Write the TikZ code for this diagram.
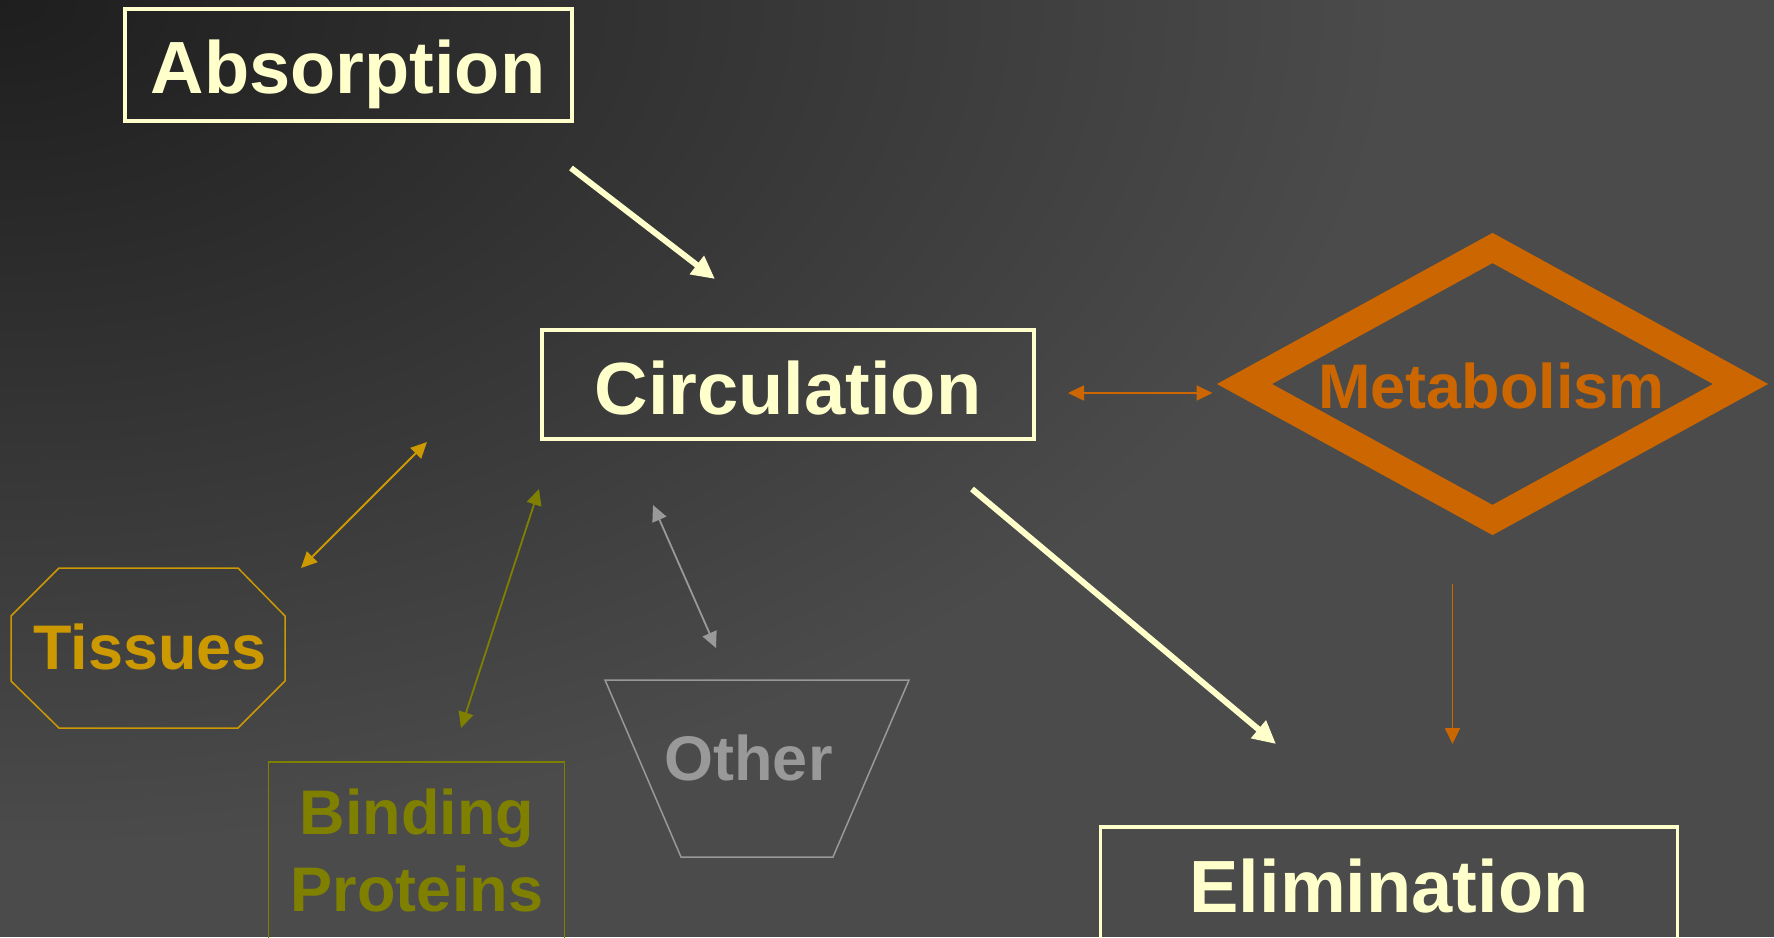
\documentclass[tikz,border=0pt]{standalone}
\usepackage{fontspec}
\setmainfont{Liberation Sans}
\usetikzlibrary{arrows.meta}
\definecolor{cream}{HTML}{FFFFCC}
\definecolor{orng}{HTML}{CC6600}
\definecolor{gold}{HTML}{CC9900}
\definecolor{olv}{HTML}{808000}
\definecolor{gry}{HTML}{999999}
\definecolor{bgdark}{HTML}{1E1E1E}
\definecolor{bglight}{HTML}{4B4B4B}
\tikzset{
  bigtext/.style={font=\fontsize{74}{80}\selectfont\bfseries, text=cream, anchor=base, inner sep=0pt},
  midtext/.style={font=\fontsize{63}{70}\selectfont\bfseries, anchor=base, inner sep=0pt},
  mainbox/.style={draw=cream, line width=3.5pt, rectangle, inner sep=0pt},
  thinbox/.style={rectangle, line width=1.5pt, inner sep=0pt},
  thickarrow/.style={draw=cream, line width=6pt, -{Triangle[length=23pt,width=22pt]}},
  thinarrow/.style={line width=1.8pt, {Triangle[length=16pt,width=15pt]}-{Triangle[length=16pt,width=15pt]}},
  onearrow/.style={line width=1.8pt, -{Triangle[length=16pt,width=15pt]}},
}
\begin{document}
\begin{tikzpicture}[x=1pt,y=-1pt]
\useasboundingbox (0,0) rectangle (1774,937);
\begin{scope}
  \clip (0,0) rectangle (1774,937);
  \fill[bglight] (0,0) rectangle (1774,937);
  \shade[inner color=bgdark, outer color=bglight] (0,0) ellipse [x radius=1400pt, y radius=850pt];
\end{scope}

% boxes
\node[mainbox, minimum width=447pt, minimum height=112pt] (absbox) at (348.5,65) {};
\node[mainbox, minimum width=492pt, minimum height=109pt] (circbox) at (788,384.5) {};
\node[mainbox, minimum width=577pt, minimum height=220pt] (elimbox) at (1389,937) {};
\node[thinbox, draw=olv, minimum width=296pt, minimum height=220pt] (bindbox) at (416.5,872) {};

% Metabolism diamond
\draw[orng, line width=26.5pt, line join=miter] (1492.5,248) -- (1740.5,384) -- (1492.5,520) -- (1244.5,384) -- cycle;
% Tissues octagon
\draw[gold, line width=1.5pt] (59,568) -- (238,568) -- (285,616) -- (285,681) -- (238,728) -- (59,728) -- (11,681) -- (11,616) -- cycle;
% Other trapezoid
\draw[gry, line width=1.5pt] (605,680) -- (909,680) -- (833,857) -- (681,857) -- cycle;

% texts
\node[bigtext] (absorption) at (348,93) {Absorption};
\node[bigtext] (circulation) at (788,414) {Circulation};
\node[bigtext] (elimination) at (1389,912) {Elimination};
\node[midtext, text=orng] (metabolism) at (1491.5,408) {Metabolism};
\node[midtext, text=gold] (tissues) at (150,669) {Tissues};
\node[midtext, text=olv] (binding) at (417,834) {Binding};
\node[midtext, text=olv] (proteins) at (417,911) {Proteins};
\node[midtext, text=gry] (other) at (748.5,780) {Other};

% connector end points
\coordinate (absout) at (571,168);
\coordinate (circin) at (715,279);
\coordinate (circout) at (972,489);
\coordinate (elimin) at (1276,744);
\coordinate (circmet) at (1068,393);
\coordinate (metcirc) at (1212.5,393);
\coordinate (metout) at (1452.5,584);
\coordinate (metelim) at (1452.5,744);
\coordinate (circtis) at (427,442);
\coordinate (tiscirc) at (301,568);
\coordinate (circbind) at (539,489);
\coordinate (bindcirc) at (461,728);
\coordinate (circoth) at (653,505);
\coordinate (othcirc) at (716,648);

% connectors
\draw[thickarrow] (absout) -- (circin);
\draw[thickarrow] (circout) -- (elimin);
\draw[thinarrow, draw=orng, fill=orng] (circmet) -- (metcirc);
\draw[onearrow, draw=orng, fill=orng] (metout) -- (metelim);
\draw[thinarrow, draw=gold, fill=gold] (tiscirc) -- (circtis);
\draw[thinarrow, draw=olv, fill=olv] (bindcirc) -- (circbind);
\draw[thinarrow, draw=gry, fill=gry] (othcirc) -- (circoth);
\end{tikzpicture}
\end{document}
